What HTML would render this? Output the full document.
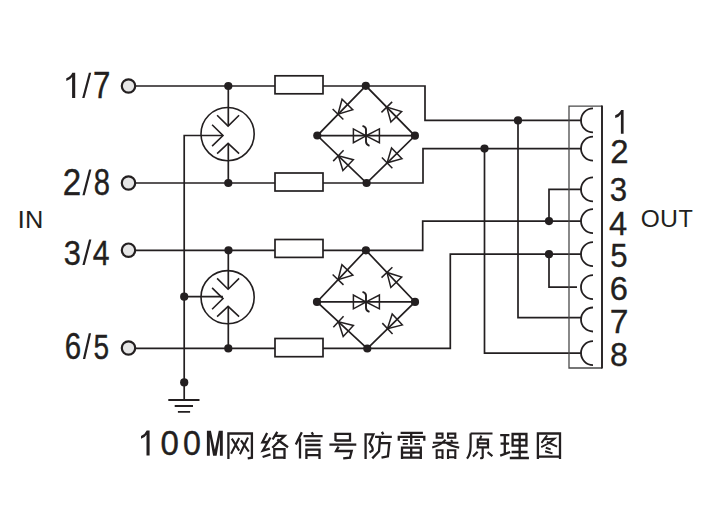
<!DOCTYPE html>
<html><head><meta charset="utf-8">
<style>
html,body{margin:0;padding:0;background:#fff;}
body{width:702px;height:509px;overflow:hidden;}
svg{display:block;}
text{font-family:"Liberation Sans",sans-serif;fill:#231f20;}
</style></head>
<body>
<svg width="702" height="509" viewBox="0 0 702 509">

<!-- wires -->
<g fill="none" stroke="#231f20" stroke-width="1.7">
  <path d="M136,86 H425 V120.4 H581.5"/>
  <path d="M136,183 H423 V148.6 H581.5"/>
  <path d="M136,250.3 H422.7 V221.1 H581.5"/>
  <path d="M136,348.4 H450.3 V254.2 H581.5"/>
  <!-- GDT verticals -->
  <path d="M228.3,86 V126"/>
  <path d="M228.3,183 V143.3"/>
  <path d="M228.3,250.3 V289.1"/>
  <path d="M228.3,348.4 V306.3"/>
  <!-- ground wire -->
  <path d="M184.2,400 V135.5 H222.9"/>
  <path d="M184.2,296.7 H222.9"/>
  <!-- bridge 1 -->
  <path d="M365.8,85.8 L317.3,135.6 L366.6,183 L414.9,135.8 Z M317.3,135.7 H414.9"/>
  <!-- bridge 2 -->
  <path d="M365.9,250.3 L317,301.9 L367.3,348.5 L415,301.9 Z M317,301.9 H415"/>
  <!-- right side -->
  <path d="M518,120.4 V317.6 H581.5"/>
  <path d="M484.5,148.6 V353.1 H581.5"/>
  <path d="M549,221.1 V189.4 H581.5"/>
  <path d="M549,254.2 V287.2 H577"/>
  <!-- ground symbol -->
  <path d="M168.3,400 H199.5 M174.7,406 H193 M177.9,411.9 H190.1" stroke-width="1.9"/>
</g>

<!-- resistors -->
<g fill="#fff" stroke="#231f20" stroke-width="1.7">
  <rect x="275" y="75.8" width="48" height="18"/>
  <rect x="275" y="173" width="48" height="18"/>
  <rect x="275" y="239.5" width="48" height="17.9"/>
  <rect x="275" y="338.5" width="48" height="18.2"/>
</g>

<!-- GDTs -->
<g transform="translate(227.6,134.1)" fill="none" stroke="#231f20" stroke-width="1.6">
    <circle cx="0" cy="0" r="26.6"/>
    <path d="M-10.5,-18.8 L0.5,-8 L11.5,-18.8"/>
    <path d="M-10.5,19.5 L0.5,9.2 L11.5,19.5"/>
    <path d="M-15.5,-9.3 L-4.6,1.4 L-15.5,12"/>
  </g>
<g transform="translate(227.6,297.2)" fill="none" stroke="#231f20" stroke-width="1.6">
    <circle cx="0" cy="0" r="26.6"/>
    <path d="M-10.5,-18.8 L0.5,-8 L11.5,-18.8"/>
    <path d="M-10.5,19.5 L0.5,9.2 L11.5,19.5"/>
    <path d="M-15.5,-9.3 L-4.6,1.4 L-15.5,12"/>
  </g>

<!-- diodes bridge 1 -->
<g transform="translate(341.5,110.6) rotate(134.3)" fill="none" stroke="#231f20" stroke-width="1.5" stroke-linejoin="miter">
    <path d="M-8.5,-7.5 L-8.5,7.5 L5,0 Z"/>
    <path d="M5,-7.5 L5,7.5"/>
  </g>
<g transform="translate(390.3,110.7) rotate(-134.5)" fill="none" stroke="#231f20" stroke-width="1.5" stroke-linejoin="miter">
    <path d="M-8.5,-7.5 L-8.5,7.5 L5,0 Z"/>
    <path d="M5,-7.5 L5,7.5"/>
  </g>
<g transform="translate(342,159.2) rotate(-136)" fill="none" stroke="#231f20" stroke-width="1.5" stroke-linejoin="miter">
    <path d="M-8.5,-7.5 L-8.5,7.5 L5,0 Z"/>
    <path d="M5,-7.5 L5,7.5"/>
  </g>
<g transform="translate(390.7,159.3) rotate(135.6)" fill="none" stroke="#231f20" stroke-width="1.5" stroke-linejoin="miter">
    <path d="M-8.5,-7.5 L-8.5,7.5 L5,0 Z"/>
    <path d="M5,-7.5 L5,7.5"/>
  </g>
<g transform="translate(366,135.8)" fill="none" stroke="#231f20" stroke-width="1.5">
    <path d="M-12.6,-6.9 L-12.6,6.9 L0,0 Z"/>
    <path d="M13.4,-6.9 L13.4,6.9 L0,0 Z"/>
    <path d="M-3.5,-10 Q0,-9 0,-6.5 L0,6 Q0,8.8 3.5,10" stroke-width="1.9"/>
  </g>
<!-- diodes bridge 2 -->
<g transform="translate(341.5,276.1) rotate(133.5)" fill="none" stroke="#231f20" stroke-width="1.5" stroke-linejoin="miter">
    <path d="M-8.5,-7.5 L-8.5,7.5 L5,0 Z"/>
    <path d="M5,-7.5 L5,7.5"/>
  </g>
<g transform="translate(390.4,276.1) rotate(-133.5)" fill="none" stroke="#231f20" stroke-width="1.5" stroke-linejoin="miter">
    <path d="M-8.5,-7.5 L-8.5,7.5 L5,0 Z"/>
    <path d="M5,-7.5 L5,7.5"/>
  </g>
<g transform="translate(342.1,325.2) rotate(-137)" fill="none" stroke="#231f20" stroke-width="1.5" stroke-linejoin="miter">
    <path d="M-8.5,-7.5 L-8.5,7.5 L5,0 Z"/>
    <path d="M5,-7.5 L5,7.5"/>
  </g>
<g transform="translate(391.1,325.2) rotate(137)" fill="none" stroke="#231f20" stroke-width="1.5" stroke-linejoin="miter">
    <path d="M-8.5,-7.5 L-8.5,7.5 L5,0 Z"/>
    <path d="M5,-7.5 L5,7.5"/>
  </g>
<g transform="translate(366,301.9)" fill="none" stroke="#231f20" stroke-width="1.5">
    <path d="M-12.6,-6.9 L-12.6,6.9 L0,0 Z"/>
    <path d="M13.4,-6.9 L13.4,6.9 L0,0 Z"/>
    <path d="M-3.5,-10 Q0,-9 0,-6.5 L0,6 Q0,8.8 3.5,10" stroke-width="1.9"/>
  </g>

<!-- dots -->
<g fill="#231f20">
  <circle cx="228.3" cy="86" r="4.1"/>
  <circle cx="228.3" cy="183" r="4.1"/>
  <circle cx="228.5" cy="250.3" r="4.1"/>
  <circle cx="228.3" cy="348.4" r="4.1"/>
  <circle cx="184.2" cy="296.7" r="4.1"/>
  <circle cx="184.2" cy="382.4" r="4.1"/>
  <circle cx="365.8" cy="85.8" r="4.1"/>
  <circle cx="317.3" cy="135.5" r="4.1"/>
  <circle cx="414.9" cy="135.7" r="4.1"/>
  <circle cx="366.6" cy="183" r="4.1"/>
  <circle cx="365.9" cy="250.3" r="4.1"/>
  <circle cx="317" cy="301.9" r="4.1"/>
  <circle cx="415" cy="301.9" r="4.1"/>
  <circle cx="367.3" cy="348.5" r="4.1"/>
  <circle cx="518" cy="120.4" r="4.1"/>
  <circle cx="484.5" cy="148.6" r="4.1"/>
  <circle cx="549" cy="221.1" r="4.1"/>
  <circle cx="549" cy="254.2" r="4.1"/>
</g>

<!-- terminals -->
<g fill="#e6e6e6" stroke="#231f20" stroke-width="2.2">
  <circle cx="128.5" cy="86" r="6.7"/>
  <circle cx="128.5" cy="183" r="6.7"/>
  <circle cx="128.5" cy="250.2" r="6.7"/>
  <circle cx="128.5" cy="348" r="6.7"/>
</g>

<!-- connector -->
<g fill="none" stroke="#231f20">
  <path d="M602,106.2 H569 V368 H602" stroke="#4a4a4a" stroke-width="1.3"/>
  <path d="M602,105.6 V368.6" stroke-width="1.9"/>
  <g stroke-width="1.8">
    <path d="M593,108.4 A12,12 0 0 0 593,132.4"/>
    <path d="M593,136.6 A12,12 0 0 0 593,160.6"/>
    <path d="M593,177.4 A12,12 0 0 0 593,201.4"/>
    <path d="M593,209.1 A12,12 0 0 0 593,233.1"/>
    <path d="M593,242.2 A12,12 0 0 0 593,266.2"/>
    <path d="M593,275.2 A12,12 0 0 0 593,299.2"/>
    <path d="M593,307.5 A12,12 0 0 0 593,331.5"/>
    <path d="M593,341.1 A12,12 0 0 0 593,365.1"/>
  </g>
</g>

<g fill="#231f20" stroke="none">
<path d="M75.20,72.80 L75.20,97.90 L72.10,97.90 L72.10,77.07 Q70.60,79.83 66.30,81.08 L66.30,78.32 Q70.90,76.31 72.30,72.80 Z"/>
<path d="M88.9,72.8 L91.2,72.8 L84.5,98.0 L82.2,98.0 Z"/>
<text transform="matrix(0.8658 0 0 1 93.01 97.80)" font-size="36.05" stroke="#231f20" stroke-width="0.4">7</text>
<text transform="matrix(0.9172 0 0 1 62.64 194.80)" font-size="36.10" stroke="#231f20" stroke-width="0.4">2</text>
<path d="M89.1,169.4 L91.4,169.4 L84.7,195.2 L82.4,195.2 Z"/>
<text transform="matrix(0.8062 0 0 1 93.75 194.84)" font-size="36.16" stroke="#231f20" stroke-width="0.4">8</text>
<text transform="matrix(0.8586 0 0 1 63.63 264.54)" font-size="35.88" stroke="#231f20" stroke-width="0.4">3</text>
<path d="M89.1,239.5 L91.4,239.5 L84.7,265.1 L82.4,265.1 Z"/>
<text transform="matrix(0.8504 0 0 1 92.81 264.50)" font-size="35.47" stroke="#231f20" stroke-width="0.4">4</text>
<text transform="matrix(0.8159 0 0 1 64.80 358.74)" font-size="36.16" stroke="#231f20" stroke-width="0.4">6</text>
<path d="M88.8,333.3 L91.1,333.3 L85.2,359.0 L82.9,359.0 Z"/>
<text transform="matrix(0.8093 0 0 1 93.48 358.65)" font-size="34.67" stroke="#231f20" stroke-width="0.4">5</text>
<text transform="matrix(1.0957 0 0 1 17.55 228.30)" font-size="24.27">I</text>
<text transform="matrix(1.0465 0 0 1 25.02 228.30)" font-size="24.27">N</text>
<text transform="matrix(1.0124 0 0 1 640.65 226.96)" font-size="24.15">O</text>
<text transform="matrix(1.0376 0 0 1 659.99 226.76)" font-size="23.93">U</text>
<text transform="matrix(0.9681 0 0 1 678.48 226.80)" font-size="24.27">T</text>
<path d="M623.60,110.10 L623.60,133.80 L620.90,133.80 L620.90,114.13 Q619.40,116.74 615.20,117.92 L615.20,115.31 Q619.70,113.42 621.10,110.10 Z"/>
<text transform="matrix(1.0115 0 0 1 610.21 162.55)" font-size="32.52" stroke="#231f20" stroke-width="0.3">2</text>
<text transform="matrix(0.9488 0 0 1 609.86 201.12)" font-size="32.91" stroke="#231f20" stroke-width="0.3">3</text>
<text transform="matrix(0.9751 0 0 1 609.00 234.55)" font-size="33.58" stroke="#231f20" stroke-width="0.3">4</text>
<text transform="matrix(0.9196 0 0 1 610.20 266.81)" font-size="33.95" stroke="#231f20" stroke-width="0.3">5</text>
<text transform="matrix(1.0083 0 0 1 609.78 299.53)" font-size="32.49" stroke="#231f20" stroke-width="0.3">6</text>
<text transform="matrix(1.0015 0 0 1 609.74 332.85)" font-size="33.58" stroke="#231f20" stroke-width="0.3">7</text>
<text transform="matrix(0.9598 0 0 1 610.07 365.52)" font-size="33.47" stroke="#231f20" stroke-width="0.3">8</text>
<path d="M149.60,430.40 L149.60,455.60 L146.50,455.60 L146.50,434.68 Q145.00,437.46 141.00,438.72 L141.00,435.94 Q145.30,433.93 146.70,430.40 Z"/>
<text transform="matrix(0.9399 0 0 1 160.41 455.45)" font-size="35.17" stroke="#231f20" stroke-width="0.4">0</text>
<text transform="matrix(0.9198 0 0 1 183.04 455.25)" font-size="35.03" stroke="#231f20" stroke-width="0.4">0</text>
<path d="M206.9,455.7 L206.9,430.7 L210.9,430.7 L214.85,449.5 L218.8,430.7 L222.8,430.7 L222.8,455.7 L219.9,455.7 L219.9,437 L216.6,455.7 L213.1,455.7 L209.8,437 L209.8,455.7 Z"/>
</g>
<g fill="none" stroke="#231f20" stroke-width="2.3" stroke-linecap="butt" stroke-linejoin="miter">
  <!-- 网 -->
  <g transform="translate(224,428)">
    <path d="M4.4,31 V5.5 H27.9 V29.7 L23.7,30.4"/>
    <path d="M7.8,10.6 L15.2,22.6 M15.2,9.9 L7.1,25.8 M17,12.4 L24.8,23.7 M24,9.5 L15.9,26.2" stroke-width="2.1"/>
  </g>
  <!-- 络 -->
  <g transform="translate(258,428)">
    <path d="M9.1,5 L4.4,14.3 L9.3,14 M12.5,9.5 L4.8,22.6 L11.8,20.7 M4.6,29 L12.5,26.4"/>
    <path d="M19.3,3.9 L14.6,11.5 M17.6,7.8 H26.6 L14.3,19.8 M19.3,11.5 L30,19.2"/>
    <path d="M16.3,31 V21.2 H26.5 V31 M16.3,29.7 H26.5"/>
  </g>
  <!-- 信 -->
  <g transform="translate(294,428)">
    <path d="M7.8,4.2 L1.8,16.6 M6,10.6 V30.4"/>
    <path d="M17.7,4.2 L19.1,6.7 M9.5,8.1 H28.6 M11.3,12.7 H26.5 M11.3,17 H26.5"/>
    <path d="M12.4,31.1 V21.6 H25.5 V31.1 M12.4,27.2 H25.5"/>
  </g>
  <!-- 号 -->
  <g transform="translate(328,428)">
    <path d="M7.5,13 V5.9 H22 V12.5 H7.5"/>
    <path d="M1.4,16.6 H28.3"/>
    <path d="M10.6,18.7 L8.1,23 H23.7 L21.9,29.7 L15.2,30.4"/>
  </g>
  <!-- 防 -->
  <g transform="translate(361,428)">
    <path d="M4.6,31.1 V6.4 H12.4 L8.5,15.2 Q12.5,19.5 11.5,22.5 L8.5,24.4"/>
    <path d="M20.9,3.9 L22.3,6.4 M14.1,8.8 H30.8 M19.1,8.8 L18,23.3 L11.3,30.4 M18.4,15.2 H28.3 L26.9,28.3 L20.5,29.7"/>
  </g>
  <!-- 雷 -->
  <g transform="translate(396,428)">
    <path d="M4.6,4.8 H26.9 M2.8,12.7 V8.8 H28.3 V12.7 M15.2,5.3 V16.6"/>
    <path d="M6.7,12.1 H11.9 M6.7,15.9 H11.9 M18.5,12.1 H24 M18.5,15.9 H24" stroke-width="1.9"/>
    <path d="M6,31 V19.6 H24.8 V31 M15.2,19.6 V29.7 M6,24.7 H24.8 M6,29.7 H24.8"/>
  </g>
  <!-- 器 -->
  <g transform="translate(429,428)" stroke-width="2.1">
    <path d="M7.7,5.6 H13.5 V9.7 H7.7 Z M19,5.6 H26.3 V9.7 H19 Z"/>
    <path d="M3.9,14.8 H29.3 M16.6,11.7 Q12,17.2 3.2,19.6 M17,14.6 Q22,18.2 30.2,19.6 M21.9,12.1 L23.5,13.8"/>
    <path d="M7.7,31 V22.2 H13.5 V31 M7.7,29.2 H13.5 M19,31 V22.2 H26.3 V31 M19,29.2 H26.3"/>
  </g>
  <!-- 原 -->
  <g transform="translate(463,428)" stroke-width="2.2">
    <path d="M7.6,5.5 H29.5 M7.6,5.5 V19 Q7.4,26.5 4,30.6"/>
    <path d="M18.3,7.6 L17.1,10.8 M14.8,11.6 H25 V19.3 H14.8 Z M14.8,15.4 H25"/>
    <path d="M19.7,19.3 V29.4 Q19.4,30.5 17.2,30 M14.6,23.7 L10,28.4 M24.6,24.2 L29.4,28.2"/>
  </g>
  <!-- 理 -->
  <g transform="translate(496,428)">
    <path d="M4.2,7.1 H13.4 M4.6,15.6 H13.1 M8.8,7.1 V25.5 M4.2,27.6 L14.1,24"/>
    <path d="M16.6,6 H30.4 V17.7 H16.6 Z M23.7,6 V30 M16.6,12 H30.4 M15.6,24 H31.5 M13.8,30 H32.9"/>
  </g>
  <!-- 图 -->
  <g transform="translate(532,428)">
    <path d="M5.9,31.1 V5.5 H28 V31.1 M5.9,28.7 H28"/>
    <path d="M15.2,7.4 L9.5,14.8 M13.1,11.3 L22.6,10.6 Q17,16 9.2,19.1 M14.9,13.8 L25.1,18.7 M13.8,19.8 L18.7,21.4 M13.1,23.3 L20.5,25.4" stroke-width="2"/>
  </g>
</g>
</svg>
</body></html>
